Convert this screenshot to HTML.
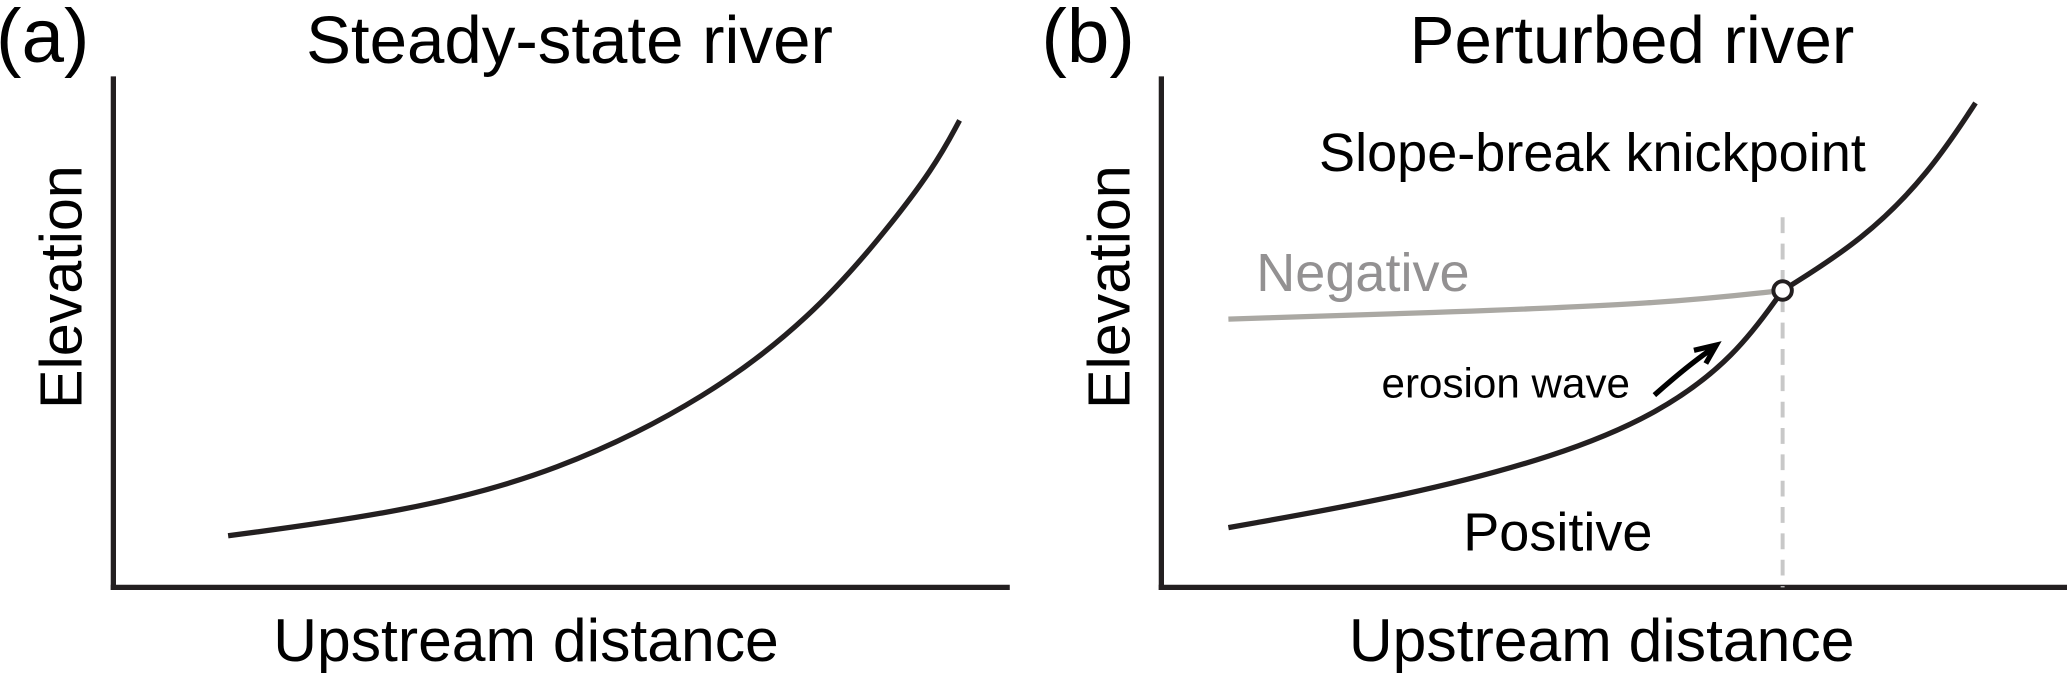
<!DOCTYPE html>
<html><head><meta charset="utf-8"><style>
html,body{margin:0;padding:0;background:#fff;}
svg{display:block;font-family:"Liberation Sans",Arial,sans-serif;}
</style></head><body>
<svg id="fig" width="2067" height="673" viewBox="0 0 1568 511" preserveAspectRatio="none" xmlns="http://www.w3.org/2000/svg">
<g>
<text x="-3" y="47" font-size="58">(a)</text>
<text x="432" y="48" font-size="51" text-anchor="middle">Steady-state river</text>
<line x1="86" y1="58" x2="86" y2="448" stroke="#231f20" stroke-width="4"/>
<line x1="84" y1="446" x2="766" y2="446" stroke="#231f20" stroke-width="4"/>
<text transform="translate(62,218) rotate(-90)" font-size="45" text-anchor="middle">Elevation</text>
<text x="399" y="502" font-size="46" text-anchor="middle">Upstream distance</text>
<path id="steadyCurve" fill="none" stroke="#231f20" stroke-width="4"/>
</g>
<g>
<text x="790" y="47" font-size="58">(b)</text>
<text x="1238" y="48" font-size="51" text-anchor="middle">Perturbed river</text>
<line x1="881" y1="58" x2="881" y2="448" stroke="#231f20" stroke-width="4"/>
<line x1="879" y1="446" x2="1568" y2="446" stroke="#231f20" stroke-width="4"/>
<text transform="translate(857,218) rotate(-90)" font-size="45" text-anchor="middle">Elevation</text>
<text x="1215" y="502" font-size="46" text-anchor="middle">Upstream distance</text>
<line id="knickDash" y1="165" y2="446" stroke="#c8c8c8" stroke-width="3" stroke-dasharray="12,8"/>
<path id="negCurve" fill="none" stroke="#aaa8a3" stroke-width="4"/>
<path id="posLower" fill="none" stroke="#231f20" stroke-width="4"/>
<path id="posUpper" fill="none" stroke="#231f20" stroke-width="4"/>
<circle id="knickCircle" r="7" fill="#fff" stroke="#231f20" stroke-width="3"/>
<text x="1208" y="130" font-size="41" text-anchor="middle">Slope-break knickpoint</text>
<text x="953" y="221" font-size="41" fill="#939192">Negative</text>
<text x="1110" y="418" font-size="41">Positive</text>
<text x="1048" y="302" font-size="32">erosion wave</text>
<path d="M1255,300 Q1282,276 1300,264 M1285,266 L1302,262 L1294,276" fill="none" stroke="#000" stroke-width="4"/>
</g>
</svg>
<script>
const steadyX=[12.8,32.4,49.5,66.6,77.9,85.4,91.6,94.4];
const steadyY=[10.1,14.7,22.4,37.4,53.1,68.0,82.2,91.4];
const posLowerX=[7.4,26.8,43.7,55.1,63.4,68.6];
const posLowerY=[11.7,17.8,25.6,34.1,45.2,58.1];
const posUpperX=[68.6,77.5,84.8,89.9];
const posUpperY=[58.1,68.0,81.1,94.8];
const negX=[7.4,32.5,55.1,68.6];
const negY=[52.5,53.9,55.5,58.1];
const knickX=[68.6];
const knickY=[58.1];
function axA(x,y){return [86+x/100*680,446-y/100*388];}
function axB(x,y){return [881+x/100*687,446-y/100*388];}
function bsplinePath(xs,ys,ax){
  let p=xs.map((x,i)=>ax(x,ys[i]));
  const f=p[0],l=p[p.length-1];
  p=[f,f].concat(p).concat([l,l]);
  const mix=(a,b,c,wa,wb,wc)=>[(a[0]*wa+b[0]*wb+c[0]*wc)/(wa+wb+wc),(a[1]*wa+b[1]*wb+c[1]*wc)/(wa+wb+wc)];
  let d='M'+f[0].toFixed(2)+','+f[1].toFixed(2);
  for(let i=0;i<p.length-3;i++){
    const P0=p[i],P1=p[i+1],P2=p[i+2],P3=p[i+3];
    const b1=mix(P1,P2,P2,2,1,0),b2=mix(P1,P2,P2,1,2,0),b3=mix(P1,P2,P3,4,1,0);
    const e=mix(P1,P2,P3,1,4,1);
    d+=' C'+b1[0].toFixed(2)+','+b1[1].toFixed(2)+' '+b2[0].toFixed(2)+','+b2[1].toFixed(2)+' '+e[0].toFixed(2)+','+e[1].toFixed(2);
  }
  return d;
}
document.getElementById('steadyCurve').setAttribute('d',bsplinePath(steadyX,steadyY,axA));
document.getElementById('posLower').setAttribute('d',bsplinePath(posLowerX,posLowerY,axB));
document.getElementById('posUpper').setAttribute('d',bsplinePath(posUpperX,posUpperY,axB));
document.getElementById('negCurve').setAttribute('d',bsplinePath(negX,negY,axB));
const k=axB(knickX[0],knickY[0]);
const c=document.getElementById('knickCircle');
c.setAttribute('cx',k[0]);c.setAttribute('cy',k[1]);
const dl=document.getElementById('knickDash');
dl.setAttribute('x1',k[0]);dl.setAttribute('x2',k[0]);
</script>
</body></html>
